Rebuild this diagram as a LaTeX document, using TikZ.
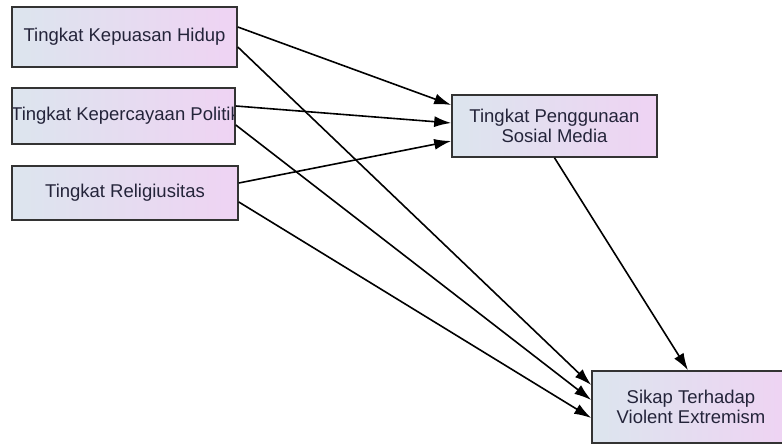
\documentclass[tikz,border=0pt]{standalone}
\usepackage{fontspec}
\setmainfont{Liberation Sans}
\usetikzlibrary{arrows.meta,shadows}
\definecolor{boxleft}{HTML}{DCE5EE}
\definecolor{boxright}{HTML}{EFD3F3}
\definecolor{boxline}{HTML}{333333}
\definecolor{txt}{HTML}{24243A}
\tikzset{
  varbox/.style={draw=boxline, line width=1.6pt, left color=boxleft, right color=boxright,
    inner sep=0pt, align=center, text=txt, font=\fontsize{18.5}{20.5}\selectfont,
    drop shadow={shadow xshift=1.2pt, shadow yshift=-1.2pt, fill=black!50, opacity=.5}},
  link/.style={line width=1.6pt, draw=black, -{Latex[length=17pt,width=11pt]}}
}
\begin{document}
\begin{tikzpicture}[x=1pt,y=-1pt]
\useasboundingbox (0,0) rectangle (782,445);
\clip (0,0) rectangle (782,445);
\node[varbox, minimum width=225pt, minimum height=60pt] (b1) at (124.5,37) {Tingkat Kepuasan Hidup};
\node[varbox, minimum width=223pt, minimum height=56pt,
  path picture={\node[text=txt, font=\fontsize{18.5}{20.5}\selectfont] at ([xshift=2pt]path picture bounding box.center) {Tingkat Kepercayaan Politik};}] (b2) at (123.5,116) {};
\node[varbox, minimum width=226pt, minimum height=54pt] (b3) at (125,193) {Tingkat Religiusitas};
\node[varbox, minimum width=205pt, minimum height=62pt] (b4) at (554.5,126) {Tingkat Penggunaan\\Sosial Media};
\node[varbox, minimum width=198pt, minimum height=72pt] (b5) at (691,407) {Sikap Terhadap\\Violent Extremism};
\draw[link] ([yshift=10pt]b1.east) -- ([yshift=21pt]b4.west);
\draw[link] ([yshift=-10pt]b1.east) -- ([yshift=22pt]b5.west);
\draw[link] ([yshift=10pt]b2.east) -- ([yshift=3pt]b4.west);
\draw[link] ([yshift=-9pt]b2.east) -- ([yshift=7pt]b5.west);
\draw[link] ([yshift=10pt]b3.east) -- ([yshift=-15pt]b4.west);
\draw[link] ([yshift=-9pt]b3.east) -- ([yshift=-11pt]b5.west);
\draw[link] (b4.south) -- ([xshift=-3pt]b5.north);
\end{tikzpicture}
\end{document}
